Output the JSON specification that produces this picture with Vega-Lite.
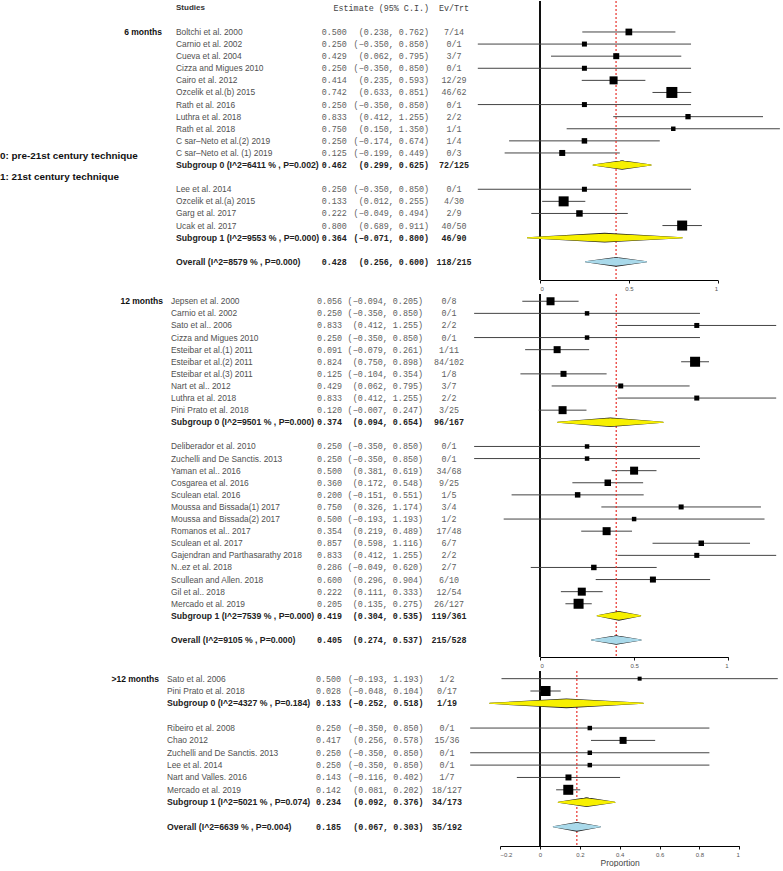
{
  "$schema": "https://vega.github.io/schema/vega-lite/v6.json",
  "padding": 0,
  "bounds": "flush",
  "spacing": 14,
  "config": {"view": {"stroke": null}, "font": "Liberation Sans", "text": {"baseline": "middle"}, "axisX": {"grid": false, "labelFontSize": 6, "labelColor": "#555", "tickSize": 3, "tickColor": "#111", "domainColor": "#000", "domainWidth": 1.2, "labelPadding": 2, "format": "~g"}},
  "datasets": {
    "p1": [
      {"row": 0, "type": "study", "study": "Boltchi et al. 2000", "est": 0.500, "lo": 0.238, "hi": 0.762, "ci": "(0.238, 0.762)", "ev": "7/14", "w": 4.5},
      {"row": 1, "type": "study", "study": "Carnio et al. 2002", "est": 0.250, "lo": -0.350, "hi": 0.850, "ci": "(−0.350, 0.850)", "ev": "0/1", "w": 2.5},
      {"row": 2, "type": "study", "study": "Cueva et al. 2004", "est": 0.429, "lo": 0.062, "hi": 0.795, "ci": "(0.062, 0.795)", "ev": "3/7", "w": 3.6},
      {"row": 3, "type": "study", "study": "Cizza and Migues 2010", "est": 0.250, "lo": -0.350, "hi": 0.850, "ci": "(−0.350, 0.850)", "ev": "0/1", "w": 2.5},
      {"row": 4, "type": "study", "study": "Cairo et al. 2012", "est": 0.414, "lo": 0.235, "hi": 0.593, "ci": "(0.235, 0.593)", "ev": "12/29", "w": 6.4},
      {"row": 5, "type": "study", "study": "Ozcelik et al.(b) 2015", "est": 0.742, "lo": 0.633, "hi": 0.851, "ci": "(0.633, 0.851)", "ev": "46/62", "w": 12.1},
      {"row": 6, "type": "study", "study": "Rath et al. 2016", "est": 0.250, "lo": -0.350, "hi": 0.850, "ci": "(−0.350, 0.850)", "ev": "0/1", "w": 2.5},
      {"row": 7, "type": "study", "study": "Luthra et al. 2018", "est": 0.833, "lo": 0.412, "hi": 1.255, "ci": "(0.412, 1.255)", "ev": "2/2", "w": 2.8},
      {"row": 8, "type": "study", "study": "Rath et al. 2018", "est": 0.750, "lo": 0.150, "hi": 1.350, "ci": "(0.150, 1.350)", "ev": "1/1", "w": 2.0},
      {"row": 9, "type": "study", "study": "C sar–Neto et al.(2) 2019", "est": 0.250, "lo": -0.174, "hi": 0.674, "ci": "(−0.174, 0.674)", "ev": "1/4", "w": 3.0},
      {"row": 10, "type": "study", "study": "C sar–Neto et al. (1) 2019", "est": 0.125, "lo": -0.199, "hi": 0.449, "ci": "(−0.199, 0.449)", "ev": "0/3", "w": 3.6},
      {"row": 11, "type": "sub", "study": "Subgroup 0 (I^2=6411 % , P=0.002)", "est": 0.462, "lo": 0.299, "hi": 0.625, "ci": "(0.299, 0.625)", "ev": "72/125"},
      {"row": 13, "type": "study", "study": "Lee et al. 2014", "est": 0.250, "lo": -0.350, "hi": 0.850, "ci": "(−0.350, 0.850)", "ev": "0/1", "w": 2.5},
      {"row": 14, "type": "study", "study": "Ozcelik et al.(a) 2015", "est": 0.133, "lo": 0.012, "hi": 0.255, "ci": "(0.012, 0.255)", "ev": "4/30", "w": 10},
      {"row": 15, "type": "study", "study": "Garg et al. 2017", "est": 0.222, "lo": -0.049, "hi": 0.494, "ci": "(−0.049, 0.494)", "ev": "2/9", "w": 4.2},
      {"row": 16, "type": "study", "study": "Ucak et al. 2017", "est": 0.800, "lo": 0.689, "hi": 0.911, "ci": "(0.689, 0.911)", "ev": "40/50", "w": 10},
      {"row": 17, "type": "sub", "study": "Subgroup 1 (I^2=9553 % , P=0.000)", "est": 0.364, "lo": -0.071, "hi": 0.800, "ci": "(−0.071, 0.800)", "ev": "46/90"},
      {"row": 19, "type": "overall", "study": "Overall (I^2=8579 % , P=0.000)", "est": 0.428, "lo": 0.256, "hi": 0.600, "ci": "(0.256, 0.600)", "ev": "118/215"}
    ],
    "p2": [
      {"row": 0, "type": "study", "study": "Jepsen et al. 2000", "est": 0.056, "lo": -0.094, "hi": 0.205, "ci": "(−0.094, 0.205)", "ev": "0/8", "w": 6.4},
      {"row": 1, "type": "study", "study": "Carnio et al. 2002", "est": 0.250, "lo": -0.350, "hi": 0.850, "ci": "(−0.350, 0.850)", "ev": "0/1", "w": 2.0},
      {"row": 2, "type": "study", "study": "Sato et al.. 2006", "est": 0.833, "lo": 0.412, "hi": 1.255, "ci": "(0.412, 1.255)", "ev": "2/2", "w": 2.5},
      {"row": 3, "type": "study", "study": "Cizza and Migues 2010", "est": 0.250, "lo": -0.350, "hi": 0.850, "ci": "(−0.350, 0.850)", "ev": "0/1", "w": 2.0},
      {"row": 4, "type": "study", "study": "Esteibar et al.(1)  2011", "est": 0.091, "lo": -0.079, "hi": 0.261, "ci": "(−0.079, 0.261)", "ev": "1/11", "w": 4.9},
      {"row": 5, "type": "study", "study": "Esteibar et al.(2)  2011", "est": 0.824, "lo": 0.750, "hi": 0.898, "ci": "(0.750, 0.898)", "ev": "84/102", "w": 10},
      {"row": 6, "type": "study", "study": "Esteibar et al.(3)  2011", "est": 0.125, "lo": -0.104, "hi": 0.354, "ci": "(−0.104, 0.354)", "ev": "1/8", "w": 3.6},
      {"row": 7, "type": "study", "study": "Nart et al.. 2012", "est": 0.429, "lo": 0.062, "hi": 0.795, "ci": "(0.062, 0.795)", "ev": "3/7", "w": 2.5},
      {"row": 8, "type": "study", "study": "Luthra et al. 2018", "est": 0.833, "lo": 0.412, "hi": 1.255, "ci": "(0.412, 1.255)", "ev": "2/2", "w": 2.5},
      {"row": 9, "type": "study", "study": "Pini Prato et al. 2018", "est": 0.120, "lo": -0.007, "hi": 0.247, "ci": "(−0.007, 0.247)", "ev": "3/25", "w": 6.4},
      {"row": 10, "type": "sub", "study": "Subgroup 0 (I^2=9501 % , P=0.000)", "est": 0.374, "lo": 0.094, "hi": 0.654, "ci": "(0.094, 0.654)", "ev": "96/167"},
      {"row": 12, "type": "study", "study": "Deliberador et al. 2010", "est": 0.250, "lo": -0.350, "hi": 0.850, "ci": "(−0.350, 0.850)", "ev": "0/1", "w": 2.0},
      {"row": 13, "type": "study", "study": "Zuchelli and De Sanctis. 2013", "est": 0.250, "lo": -0.350, "hi": 0.850, "ci": "(−0.350, 0.850)", "ev": "0/1", "w": 2.0},
      {"row": 14, "type": "study", "study": "Yaman et al.. 2016", "est": 0.500, "lo": 0.381, "hi": 0.619, "ci": "(0.381, 0.619)", "ev": "34/68", "w": 6.4},
      {"row": 15, "type": "study", "study": "Cosgarea et al. 2016", "est": 0.360, "lo": 0.172, "hi": 0.548, "ci": "(0.172, 0.548)", "ev": "9/25", "w": 4.2},
      {"row": 16, "type": "study", "study": "Sculean etal. 2016", "est": 0.200, "lo": -0.151, "hi": 0.551, "ci": "(−0.151, 0.551)", "ev": "1/5", "w": 3.0},
      {"row": 17, "type": "study", "study": "Moussa and Bissada(1) 2017", "est": 0.750, "lo": 0.326, "hi": 1.174, "ci": "(0.326, 1.174)", "ev": "3/4", "w": 2.5},
      {"row": 18, "type": "study", "study": "Moussa and Bissada(2) 2017", "est": 0.500, "lo": -0.193, "hi": 1.193, "ci": "(−0.193, 1.193)", "ev": "1/2", "w": 2.0},
      {"row": 19, "type": "study", "study": "Romanos et al.. 2017", "est": 0.354, "lo": 0.219, "hi": 0.489, "ci": "(0.219, 0.489)", "ev": "17/48", "w": 6.4},
      {"row": 20, "type": "study", "study": "Sculean et al. 2017", "est": 0.857, "lo": 0.598, "hi": 1.116, "ci": "(0.598, 1.116)", "ev": "6/7", "w": 3.0},
      {"row": 21, "type": "study", "study": "Gajendran and Parthasarathy 2018", "est": 0.833, "lo": 0.412, "hi": 1.255, "ci": "(0.412, 1.255)", "ev": "2/2", "w": 2.5},
      {"row": 22, "type": "study", "study": "N..ez et al. 2018", "est": 0.286, "lo": -0.049, "hi": 0.620, "ci": "(−0.049, 0.620)", "ev": "2/7", "w": 3.0},
      {"row": 23, "type": "study", "study": "Scullean and Allen. 2018", "est": 0.600, "lo": 0.296, "hi": 0.904, "ci": "(0.296, 0.904)", "ev": "6/10", "w": 3.6},
      {"row": 24, "type": "study", "study": "Gil et al.. 2018", "est": 0.222, "lo": 0.111, "hi": 0.333, "ci": "(0.111, 0.333)", "ev": "12/54", "w": 6.4},
      {"row": 25, "type": "study", "study": "Mercado et al. 2019", "est": 0.205, "lo": 0.135, "hi": 0.275, "ci": "(0.135, 0.275)", "ev": "26/127", "w": 10},
      {"row": 26, "type": "sub", "study": "Subgroup 1 (I^2=7539 % , P=0.000)", "est": 0.419, "lo": 0.304, "hi": 0.535, "ci": "(0.304, 0.535)", "ev": "119/361"},
      {"row": 28, "type": "overall", "study": "Overall (I^2=9105 % , P=0.000)", "est": 0.405, "lo": 0.274, "hi": 0.537, "ci": "(0.274, 0.537)", "ev": "215/528"}
    ],
    "p3": [
      {"row": 0, "type": "study", "study": "Sato et al. 2006", "est": 0.500, "lo": -0.193, "hi": 1.193, "ci": "(−0.193, 1.193)", "ev": "1/2", "w": 1.6},
      {"row": 1, "type": "study", "study": "Pini Prato et al.  2018", "est": 0.028, "lo": -0.048, "hi": 0.104, "ci": "(−0.048, 0.104)", "ev": "0/17", "w": 10},
      {"row": 2, "type": "sub", "study": "Subgroup 0 (I^2=4327 % , P=0.184)", "est": 0.133, "lo": -0.252, "hi": 0.518, "ci": "(−0.252, 0.518)", "ev": "1/19"},
      {"row": 4, "type": "study", "study": "Ribeiro et al. 2008", "est": 0.250, "lo": -0.350, "hi": 0.850, "ci": "(−0.350, 0.850)", "ev": "0/1", "w": 2.0},
      {"row": 5, "type": "study", "study": "Chao  2012", "est": 0.417, "lo": 0.256, "hi": 0.578, "ci": "(0.256, 0.578)", "ev": "15/36", "w": 4.9},
      {"row": 6, "type": "study", "study": "Zuchelli and De Sanctis. 2013", "est": 0.250, "lo": -0.350, "hi": 0.850, "ci": "(−0.350, 0.850)", "ev": "0/1", "w": 2.0},
      {"row": 7, "type": "study", "study": "Lee et al. 2014", "est": 0.250, "lo": -0.350, "hi": 0.850, "ci": "(−0.350, 0.850)", "ev": "0/1", "w": 2.0},
      {"row": 8, "type": "study", "study": "Nart and Valles. 2016", "est": 0.143, "lo": -0.116, "hi": 0.402, "ci": "(−0.116, 0.402)", "ev": "1/7", "w": 3.6},
      {"row": 9, "type": "study", "study": "Mercado et al. 2019", "est": 0.142, "lo": 0.081, "hi": 0.202, "ci": "(0.081, 0.202)", "ev": "18/127", "w": 10},
      {"row": 10, "type": "sub", "study": "Subgroup 1 (I^2=5021 % , P=0.074)", "est": 0.234, "lo": 0.092, "hi": 0.376, "ci": "(0.092, 0.376)", "ev": "34/173"},
      {"row": 12, "type": "overall", "study": "Overall (I^2=6639 % , P=0.004)", "est": 0.185, "lo": 0.067, "hi": 0.303, "ci": "(0.067, 0.303)", "ev": "35/192"}
    ]
  },
  "vconcat": [
    {
      "width": 783, "height": 279,
      "data": {"name": "p1"},
      "encoding": {"y": {"field": "row", "type": "quantitative", "scale": {"domain": [-2.56, 20.5], "reverse": true, "nice": false, "zero": false}, "axis": null}},
      "layer": [
        {"mark": {"type": "rule", "color": "#111", "strokeWidth": 1}, "encoding": {"y": null, "x": {"datum": 0, "type": "quantitative", "scale": {"domain": [0, 1], "range": [540, 717.7], "nice": false, "zero": false}, "axis": {"values": [0, 0.5, 1], "title": null}}}},
        {"transform": [{"filter": "datum.type === 'study'"}], "mark": {"type": "rule", "color": "#444", "strokeWidth": 1}, "encoding": {"x": {"field": "lo", "type": "quantitative", "axis": {"values": [0, 0.5, 1], "title": null}}, "x2": {"field": "hi"}}},
        {"transform": [{"filter": "datum.type === 'overall'"}], "mark": {"type": "rule", "color": "#e8302a", "strokeWidth": 1.2, "strokeDash": [2, 2]}, "encoding": {"y": null, "x": {"field": "est", "type": "quantitative", "axis": {"values": [0, 0.5, 1], "title": null}}}},
        {"transform": [{"filter": "datum.type === 'study'"}], "mark": {"type": "square", "filled": true, "color": "#000", "opacity": 1}, "encoding": {"x": {"field": "est", "type": "quantitative", "axis": {"values": [0, 0.5, 1], "title": null}}, "size": {"field": "w", "type": "quantitative", "scale": {"type": "linear", "zero": true, "domain": [0, 12.1], "range": [0, 121]}, "legend": null}}},
        {"transform": [{"filter": "datum.type !== 'study'"}, {"fold": ["lo", "est", "hi"], "as": ["k", "v"]}], "mark": {"type": "trail", "color": "#222"}, "encoding": {"x": {"field": "v", "type": "quantitative", "axis": {"values": [0, 0.5, 1], "title": null}}, "detail": {"field": "row", "type": "quantitative"}, "order": {"field": "v", "type": "quantitative"}, "size": {"condition": {"test": "datum.k === 'est'", "value": 9.6}, "value": 1}}},
        {"transform": [{"filter": "datum.type !== 'study'"}, {"fold": ["lo", "est", "hi"], "as": ["k", "v"]}], "mark": {"type": "trail"}, "encoding": {"x": {"field": "v", "type": "quantitative", "axis": {"values": [0, 0.5, 1], "title": null}}, "detail": {"field": "row", "type": "quantitative"}, "order": {"field": "v", "type": "quantitative"}, "size": {"condition": {"test": "datum.k === 'est'", "value": 8}, "value": 0}, "color": {"field": "type", "type": "nominal", "scale": {"domain": ["sub", "overall"], "range": ["#f7f000", "#a9d9ea"]}, "legend": null}}},
        {"transform": [{"filter": "datum.type === 'study'"}], "mark": {"type": "text", "align": "left", "font": "Liberation Sans", "fontSize": 8.4, "color": "#505050"}, "encoding": {"x": {"value": 176}, "text": {"field": "study"}}},
        {"transform": [{"filter": "datum.type !== 'study'"}], "mark": {"type": "text", "align": "left", "font": "Liberation Sans", "fontSize": 8.7, "fontWeight": "bold", "color": "#222"}, "encoding": {"x": {"value": 176}, "text": {"field": "study"}}},
        {"transform": [{"filter": "datum.type === 'study'"}], "mark": {"type": "text", "align": "left", "font": "Liberation Mono", "fontSize": 8.4, "color": "#606060"}, "encoding": {"x": {"value": 321.7}, "text": {"field": "est", "type": "quantitative", "format": ".3f"}}},
        {"transform": [{"filter": "datum.type !== 'study'"}], "mark": {"type": "text", "align": "left", "font": "Liberation Mono", "fontSize": 8.4, "fontWeight": "bold", "color": "#222"}, "encoding": {"x": {"value": 321.7}, "text": {"field": "est", "type": "quantitative", "format": ".3f"}}},
        {"transform": [{"filter": "datum.type === 'study'"}], "mark": {"type": "text", "align": "right", "font": "Liberation Mono", "fontSize": 8.4, "color": "#606060"}, "encoding": {"x": {"value": 429}, "text": {"field": "ci"}}},
        {"transform": [{"filter": "datum.type !== 'study'"}], "mark": {"type": "text", "align": "right", "font": "Liberation Mono", "fontSize": 8.4, "fontWeight": "bold", "color": "#222"}, "encoding": {"x": {"value": 429}, "text": {"field": "ci"}}},
        {"transform": [{"filter": "datum.type === 'study'"}], "mark": {"type": "text", "align": "center", "font": "Liberation Mono", "fontSize": 8.4, "color": "#606060"}, "encoding": {"x": {"value": 454}, "text": {"field": "ev"}}},
        {"transform": [{"filter": "datum.type !== 'study'"}], "mark": {"type": "text", "align": "center", "font": "Liberation Mono", "fontSize": 8.4, "fontWeight": "bold", "color": "#222"}, "encoding": {"x": {"value": 454}, "text": {"field": "ev"}}},
        {"data": {"values": [{"row": -2}]}, "layer": [
          {"mark": {"type": "text", "align": "left", "font": "Liberation Sans", "fontSize": 8, "fontWeight": "bold", "color": "#333"}, "encoding": {"x": {"value": 176}, "text": {"value": "Studies"}}},
          {"mark": {"type": "text", "align": "right", "font": "Liberation Mono", "fontSize": 8.4, "color": "#444"}, "encoding": {"x": {"value": 429}, "text": {"value": "Estimate  (95% C.I.)"}}},
          {"mark": {"type": "text", "align": "center", "font": "Liberation Mono", "fontSize": 8.4, "color": "#444"}, "encoding": {"x": {"value": 454}, "text": {"value": "Ev/Trt"}}}
        ]},
        {"data": {"values": [{"row": 0, "label": "6 months"}]}, "mark": {"type": "text", "align": "right", "font": "Liberation Sans", "fontSize": 8.5, "fontWeight": "bold", "color": "#111"}, "encoding": {"x": {"value": 162}, "text": {"field": "label"}}},
        {"data": {"values": [{"row": 10.25, "label": "0: pre-21st century technique"}, {"row": 12, "label": "1: 21st century technique"}]}, "mark": {"type": "text", "align": "left", "font": "Liberation Sans", "fontSize": 9.9, "fontWeight": "bold", "color": "#111"}, "encoding": {"x": {"value": 0}, "text": {"field": "label"}}}
      ]
    },
    {
      "width": 783, "height": 363,
      "data": {"name": "p2"},
      "encoding": {"y": {"field": "row", "type": "quantitative", "scale": {"domain": [-0.6, 29.4], "reverse": true, "nice": false, "zero": false}, "axis": null}},
      "layer": [
        {"mark": {"type": "rule", "color": "#111", "strokeWidth": 1}, "encoding": {"y": null, "x": {"datum": 0, "type": "quantitative", "scale": {"domain": [0, 1], "range": [540, 728.2], "nice": false, "zero": false}, "axis": {"values": [0, 0.5, 1], "title": null}}}},
        {"transform": [{"filter": "datum.type === 'study'"}], "mark": {"type": "rule", "color": "#444", "strokeWidth": 1}, "encoding": {"x": {"field": "lo", "type": "quantitative", "axis": {"values": [0, 0.5, 1], "title": null}}, "x2": {"field": "hi"}}},
        {"transform": [{"filter": "datum.type === 'overall'"}], "mark": {"type": "rule", "color": "#e8302a", "strokeWidth": 1.2, "strokeDash": [2, 2]}, "encoding": {"y": null, "x": {"field": "est", "type": "quantitative", "axis": {"values": [0, 0.5, 1], "title": null}}}},
        {"transform": [{"filter": "datum.type === 'study'"}], "mark": {"type": "square", "filled": true, "color": "#000", "opacity": 1}, "encoding": {"x": {"field": "est", "type": "quantitative", "axis": {"values": [0, 0.5, 1], "title": null}}, "size": {"field": "w", "type": "quantitative", "scale": {"type": "linear", "zero": true, "domain": [0, 12.1], "range": [0, 121]}, "legend": null}}},
        {"transform": [{"filter": "datum.type !== 'study'"}, {"fold": ["lo", "est", "hi"], "as": ["k", "v"]}], "mark": {"type": "trail", "color": "#222"}, "encoding": {"x": {"field": "v", "type": "quantitative", "axis": {"values": [0, 0.5, 1], "title": null}}, "detail": {"field": "row", "type": "quantitative"}, "order": {"field": "v", "type": "quantitative"}, "size": {"condition": {"test": "datum.k === 'est'", "value": 9.6}, "value": 1}}},
        {"transform": [{"filter": "datum.type !== 'study'"}, {"fold": ["lo", "est", "hi"], "as": ["k", "v"]}], "mark": {"type": "trail"}, "encoding": {"x": {"field": "v", "type": "quantitative", "axis": {"values": [0, 0.5, 1], "title": null}}, "detail": {"field": "row", "type": "quantitative"}, "order": {"field": "v", "type": "quantitative"}, "size": {"condition": {"test": "datum.k === 'est'", "value": 8}, "value": 0}, "color": {"field": "type", "type": "nominal", "scale": {"domain": ["sub", "overall"], "range": ["#f7f000", "#a9d9ea"]}, "legend": null}}},
        {"transform": [{"filter": "datum.type === 'study'"}], "mark": {"type": "text", "align": "left", "font": "Liberation Sans", "fontSize": 8.4, "color": "#505050"}, "encoding": {"x": {"value": 171}, "text": {"field": "study"}}},
        {"transform": [{"filter": "datum.type !== 'study'"}], "mark": {"type": "text", "align": "left", "font": "Liberation Sans", "fontSize": 8.7, "fontWeight": "bold", "color": "#222"}, "encoding": {"x": {"value": 171}, "text": {"field": "study"}}},
        {"transform": [{"filter": "datum.type === 'study'"}], "mark": {"type": "text", "align": "left", "font": "Liberation Mono", "fontSize": 8.4, "color": "#606060"}, "encoding": {"x": {"value": 317}, "text": {"field": "est", "type": "quantitative", "format": ".3f"}}},
        {"transform": [{"filter": "datum.type !== 'study'"}], "mark": {"type": "text", "align": "left", "font": "Liberation Mono", "fontSize": 8.4, "fontWeight": "bold", "color": "#222"}, "encoding": {"x": {"value": 317}, "text": {"field": "est", "type": "quantitative", "format": ".3f"}}},
        {"transform": [{"filter": "datum.type === 'study'"}], "mark": {"type": "text", "align": "right", "font": "Liberation Mono", "fontSize": 8.4, "color": "#606060"}, "encoding": {"x": {"value": 423}, "text": {"field": "ci"}}},
        {"transform": [{"filter": "datum.type !== 'study'"}], "mark": {"type": "text", "align": "right", "font": "Liberation Mono", "fontSize": 8.4, "fontWeight": "bold", "color": "#222"}, "encoding": {"x": {"value": 423}, "text": {"field": "ci"}}},
        {"transform": [{"filter": "datum.type === 'study'"}], "mark": {"type": "text", "align": "center", "font": "Liberation Mono", "fontSize": 8.4, "color": "#606060"}, "encoding": {"x": {"value": 449}, "text": {"field": "ev"}}},
        {"transform": [{"filter": "datum.type !== 'study'"}], "mark": {"type": "text", "align": "center", "font": "Liberation Mono", "fontSize": 8.4, "fontWeight": "bold", "color": "#222"}, "encoding": {"x": {"value": 449}, "text": {"field": "ev"}}},
        {"data": {"values": [{"row": 0, "label": "12 months"}]}, "mark": {"type": "text", "align": "right", "font": "Liberation Sans", "fontSize": 8.5, "fontWeight": "bold", "color": "#111"}, "encoding": {"x": {"value": 163}, "text": {"field": "label"}}}
      ]
    },
    {
      "width": 783, "height": 175,
      "data": {"name": "p3"},
      "encoding": {"y": {"field": "row", "type": "quantitative", "scale": {"domain": [-0.62, 13.55], "reverse": true, "nice": false, "zero": false}, "axis": null}},
      "layer": [
        {"mark": {"type": "rule", "color": "#111", "strokeWidth": 1}, "encoding": {"y": null, "x": {"datum": 0, "type": "quantitative", "scale": {"domain": [-0.2, 1], "range": [500.1, 739.3], "nice": false, "zero": false}, "axis": {"values": [-0.2, 0, 0.2, 0.4, 0.6, 0.8, 1], "title": "Proportion", "titleFontSize": 8.5, "titleFontWeight": "normal", "titleColor": "#444", "titlePadding": 1}}}},
        {"transform": [{"filter": "datum.type === 'study'"}], "mark": {"type": "rule", "color": "#444", "strokeWidth": 1}, "encoding": {"x": {"field": "lo", "type": "quantitative", "axis": {"values": [-0.2, 0, 0.2, 0.4, 0.6, 0.8, 1], "title": "Proportion", "titleFontSize": 8.5, "titleFontWeight": "normal", "titleColor": "#444", "titlePadding": 1}}, "x2": {"field": "hi"}}},
        {"transform": [{"filter": "datum.type === 'overall'"}], "mark": {"type": "rule", "color": "#e8302a", "strokeWidth": 1.2, "strokeDash": [2, 2]}, "encoding": {"y": null, "x": {"field": "est", "type": "quantitative", "axis": {"values": [-0.2, 0, 0.2, 0.4, 0.6, 0.8, 1], "title": "Proportion", "titleFontSize": 8.5, "titleFontWeight": "normal", "titleColor": "#444", "titlePadding": 1}}}},
        {"transform": [{"filter": "datum.type === 'study'"}], "mark": {"type": "square", "filled": true, "color": "#000", "opacity": 1}, "encoding": {"x": {"field": "est", "type": "quantitative", "axis": {"values": [-0.2, 0, 0.2, 0.4, 0.6, 0.8, 1], "title": "Proportion", "titleFontSize": 8.5, "titleFontWeight": "normal", "titleColor": "#444", "titlePadding": 1}}, "size": {"field": "w", "type": "quantitative", "scale": {"type": "linear", "zero": true, "domain": [0, 12.1], "range": [0, 121]}, "legend": null}}},
        {"transform": [{"filter": "datum.type !== 'study'"}, {"fold": ["lo", "est", "hi"], "as": ["k", "v"]}], "mark": {"type": "trail", "color": "#222"}, "encoding": {"x": {"field": "v", "type": "quantitative", "axis": {"values": [-0.2, 0, 0.2, 0.4, 0.6, 0.8, 1], "title": "Proportion", "titleFontSize": 8.5, "titleFontWeight": "normal", "titleColor": "#444", "titlePadding": 1}}, "detail": {"field": "row", "type": "quantitative"}, "order": {"field": "v", "type": "quantitative"}, "size": {"condition": {"test": "datum.k === 'est'", "value": 9.6}, "value": 1}}},
        {"transform": [{"filter": "datum.type !== 'study'"}, {"fold": ["lo", "est", "hi"], "as": ["k", "v"]}], "mark": {"type": "trail"}, "encoding": {"x": {"field": "v", "type": "quantitative", "axis": {"values": [-0.2, 0, 0.2, 0.4, 0.6, 0.8, 1], "title": "Proportion", "titleFontSize": 8.5, "titleFontWeight": "normal", "titleColor": "#444", "titlePadding": 1}}, "detail": {"field": "row", "type": "quantitative"}, "order": {"field": "v", "type": "quantitative"}, "size": {"condition": {"test": "datum.k === 'est'", "value": 8}, "value": 0}, "color": {"field": "type", "type": "nominal", "scale": {"domain": ["sub", "overall"], "range": ["#f7f000", "#a9d9ea"]}, "legend": null}}},
        {"transform": [{"filter": "datum.type === 'study'"}], "mark": {"type": "text", "align": "left", "font": "Liberation Sans", "fontSize": 8.4, "color": "#505050"}, "encoding": {"x": {"value": 167}, "text": {"field": "study"}}},
        {"transform": [{"filter": "datum.type !== 'study'"}], "mark": {"type": "text", "align": "left", "font": "Liberation Sans", "fontSize": 8.7, "fontWeight": "bold", "color": "#222"}, "encoding": {"x": {"value": 167}, "text": {"field": "study"}}},
        {"transform": [{"filter": "datum.type === 'study'"}], "mark": {"type": "text", "align": "left", "font": "Liberation Mono", "fontSize": 8.4, "color": "#606060"}, "encoding": {"x": {"value": 316}, "text": {"field": "est", "type": "quantitative", "format": ".3f"}}},
        {"transform": [{"filter": "datum.type !== 'study'"}], "mark": {"type": "text", "align": "left", "font": "Liberation Mono", "fontSize": 8.4, "fontWeight": "bold", "color": "#222"}, "encoding": {"x": {"value": 316}, "text": {"field": "est", "type": "quantitative", "format": ".3f"}}},
        {"transform": [{"filter": "datum.type === 'study'"}], "mark": {"type": "text", "align": "right", "font": "Liberation Mono", "fontSize": 8.4, "color": "#606060"}, "encoding": {"x": {"value": 423.5}, "text": {"field": "ci"}}},
        {"transform": [{"filter": "datum.type !== 'study'"}], "mark": {"type": "text", "align": "right", "font": "Liberation Mono", "fontSize": 8.4, "fontWeight": "bold", "color": "#222"}, "encoding": {"x": {"value": 423.5}, "text": {"field": "ci"}}},
        {"transform": [{"filter": "datum.type === 'study'"}], "mark": {"type": "text", "align": "center", "font": "Liberation Mono", "fontSize": 8.4, "color": "#606060"}, "encoding": {"x": {"value": 447}, "text": {"field": "ev"}}},
        {"transform": [{"filter": "datum.type !== 'study'"}], "mark": {"type": "text", "align": "center", "font": "Liberation Mono", "fontSize": 8.4, "fontWeight": "bold", "color": "#222"}, "encoding": {"x": {"value": 447}, "text": {"field": "ev"}}},
        {"data": {"values": [{"row": 0, "label": ">12 months"}]}, "mark": {"type": "text", "align": "right", "font": "Liberation Sans", "fontSize": 8.5, "fontWeight": "bold", "color": "#111"}, "encoding": {"x": {"value": 159}, "text": {"field": "label"}}}
      ]
    }
  ]
}
